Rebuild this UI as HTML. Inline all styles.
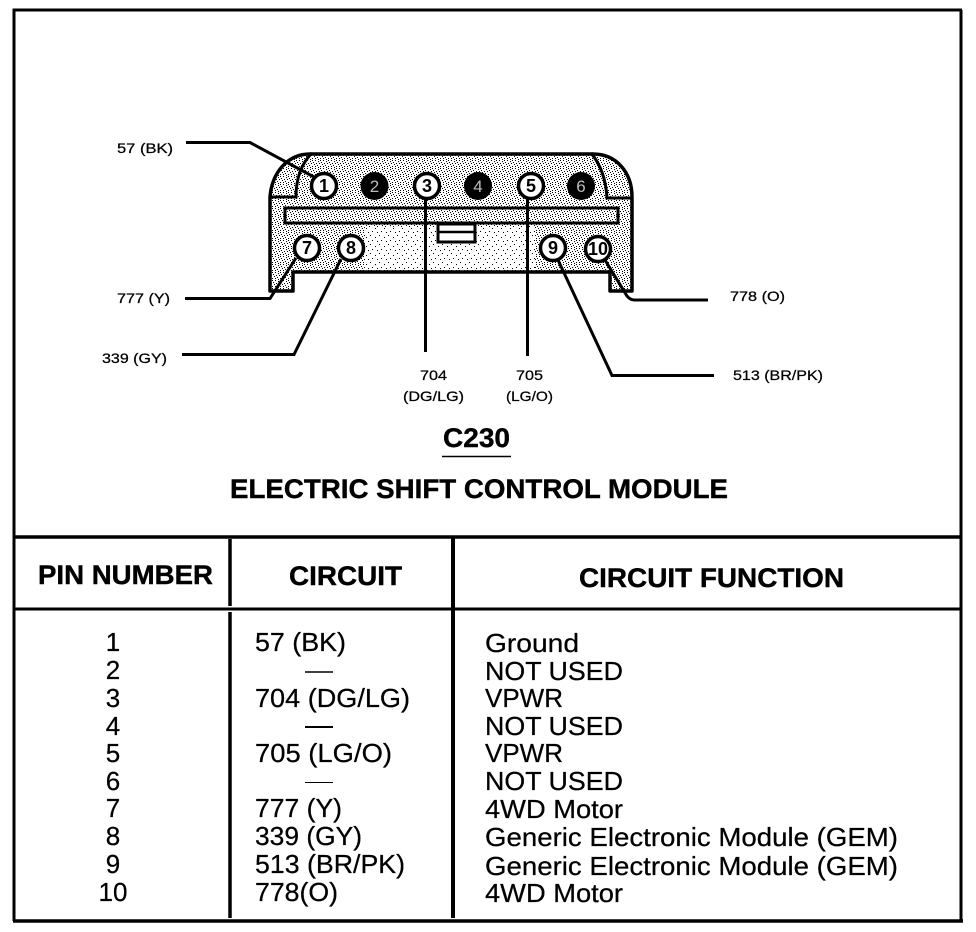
<!DOCTYPE html>
<html>
<head>
<meta charset="utf-8">
<style>
html,body{margin:0;padding:0;background:#fff;}
svg{display:block;}
text{font-family:"Liberation Sans",sans-serif;fill:#000;}
.s{font-size:14px;stroke:#000;stroke-width:.25px;}
.r{font-size:26px;stroke:#000;stroke-width:.25px;}
.h{font-size:27px;font-weight:bold;stroke:#000;stroke-width:.4px;}
.p{font-size:18px;font-weight:bold;text-anchor:middle;}
.pw{font-size:17px;text-anchor:middle;fill:#bbb;}
</style>
</head>
<body>
<svg width="976" height="932" viewBox="0 0 976 932" xmlns="http://www.w3.org/2000/svg">
<defs>
<pattern id="d" width="8" height="8" patternUnits="userSpaceOnUse" shape-rendering="crispEdges">
<rect width="8" height="8" fill="#fff"/>
<g fill="#000">
<rect x="0" y="0" width="1" height="1"/>
<rect x="3" y="0" width="1" height="1"/>
<rect x="6" y="1" width="1" height="1"/>
<rect x="1" y="2" width="1" height="1"/>
<rect x="4" y="3" width="1" height="1"/>
<rect x="7" y="3" width="1" height="1"/>
<rect x="2" y="4" width="1" height="1"/>
<rect x="5" y="5" width="1" height="1"/>
<rect x="0" y="6" width="1" height="1"/>
<rect x="3" y="6" width="1" height="1"/>
<rect x="6" y="7" width="1" height="1"/>
</g>
</pattern>
<pattern id="e" width="9" height="9" patternUnits="userSpaceOnUse" shape-rendering="crispEdges">
<rect width="9" height="9" fill="#fff"/>
<g fill="#000">
<rect x="1" y="1" width="1" height="1"/>
<rect x="6" y="3" width="1" height="1"/>
<rect x="3" y="6" width="1" height="1"/>
<rect x="8" y="7" width="1" height="1"/>
</g>
</pattern>
</defs>
<rect width="976" height="932" fill="#fff"/>

<!-- frame -->
<g fill="none" stroke="#000" stroke-width="3">
<path d="M14 921V10H962"/>
<path d="M961 10V921"/>
<path d="M13 921H963" stroke-width="3.5"/>
<path d="M14 537H962" stroke-width="3.5"/>
<path d="M14 609H962" stroke-width="3"/>
<path d="M230 539V606M230 612V918" stroke-width="3.5"/>
<path d="M453 538V918" stroke-width="4"/>
</g>

<!-- connector body -->
<path d="M270 197C272 172 288 154 310 154H593C616 154 632 172 632 197V291H610V272H293V291H270Z" fill="url(#d)" stroke="#000" stroke-width="3.5" stroke-linejoin="round"/>
<rect x="365" y="227" width="170" height="43" fill="url(#e)"/>
<g fill="none" stroke="#000">
<path d="M270 197H296C296 178 301 164 312 153" stroke-width="3"/>
<path d="M632 198H607C606 180 601 165 591 153" stroke-width="3"/>
</g>
<rect x="285" y="208" width="333" height="15" fill="url(#d)" stroke="#000" stroke-width="3"/>
<rect x="438" y="224" width="37" height="18" fill="#fff" stroke="#000" stroke-width="3"/>
<path d="M438 232H475" stroke="#000" stroke-width="2.5"/>

<!-- leaders -->
<g fill="none" stroke="#000" stroke-width="3">
<path d="M186 142.500H250L314 177"/>
<path d="M185 298.500H270L296 258"/>
<path d="M182 354.500H294L341 259"/>
<path d="M425.500 196V352"/>
<path d="M527.500 196V356"/>
<path d="M558 260L612 375.500H714"/>
<path d="M605 260L627 296Q630 300 635 300H708"/>
</g>

<!-- pins -->
<g stroke="#000" stroke-width="3.5" fill="#fff">
<circle cx="324" cy="186" r="12.500"/>
<circle cx="427" cy="186" r="12.500"/>
<circle cx="531" cy="186" r="12.500"/>
<circle cx="307" cy="248" r="12.500"/>
<circle cx="351" cy="248" r="12.500"/>
<circle cx="553" cy="248" r="12.500"/>
<circle cx="598" cy="249" r="12.500"/>
</g>
<g fill="#000">
<circle cx="374.500" cy="186" r="14"/>
<circle cx="478" cy="186" r="14"/>
<circle cx="581" cy="186" r="14"/>
</g>
<text class="p" x="324" y="192">1</text>
<text class="pw" x="374.500" y="192">2</text>
<text class="p" x="427" y="192">3</text>
<text class="pw" x="478" y="192">4</text>
<text class="p" x="531" y="192">5</text>
<text class="pw" x="581" y="192">6</text>
<text class="p" x="307" y="254">7</text>
<text class="p" x="351" y="254">8</text>
<text class="p" x="553" y="254">9</text>
<text class="p" x="598" y="255" textLength="20" lengthAdjust="spacingAndGlyphs">10</text>

<!-- small labels -->
<text class="s" x="117" y="153" textLength="56" lengthAdjust="spacingAndGlyphs">57 (BK)</text>
<text class="s" x="117" y="303" textLength="53" lengthAdjust="spacingAndGlyphs">777 (Y)</text>
<text class="s" x="102" y="363" textLength="65" lengthAdjust="spacingAndGlyphs">339 (GY)</text>
<text class="s" x="730" y="301" textLength="55" lengthAdjust="spacingAndGlyphs">778 (O)</text>
<text class="s" x="733" y="380" textLength="90" lengthAdjust="spacingAndGlyphs">513 (BR/PK)</text>
<text class="s" x="420" y="380" textLength="27" lengthAdjust="spacingAndGlyphs">704</text>
<text class="s" x="403" y="401" textLength="61" lengthAdjust="spacingAndGlyphs">(DG/LG)</text>
<text class="s" x="516" y="380" textLength="27" lengthAdjust="spacingAndGlyphs">705</text>
<text class="s" x="506" y="401" textLength="47" lengthAdjust="spacingAndGlyphs">(LG/O)</text>

<!-- title -->
<text class="h" x="443" y="447" textLength="67" lengthAdjust="spacingAndGlyphs">C230</text>
<path d="M442 456.500H511" stroke="#000" stroke-width="1.500"/>
<text class="h" x="230" y="498" textLength="498" lengthAdjust="spacingAndGlyphs">ELECTRIC SHIFT CONTROL MODULE</text>

<!-- table header -->
<text class="h" x="38" y="584" textLength="175" lengthAdjust="spacingAndGlyphs">PIN NUMBER</text>
<text class="h" x="289" y="585" textLength="113" lengthAdjust="spacingAndGlyphs">CIRCUIT</text>
<text class="h" x="579" y="587" textLength="265" lengthAdjust="spacingAndGlyphs">CIRCUIT FUNCTION</text>

<!-- pin numbers -->
<g text-anchor="middle">
<text class="r" x="113" y="651">1</text>
<text class="r" x="113" y="679">2</text>
<text class="r" x="113" y="707">3</text>
<text class="r" x="113" y="735">4</text>
<text class="r" x="113" y="762">5</text>
<text class="r" x="113" y="790">6</text>
<text class="r" x="113" y="817">7</text>
<text class="r" x="113" y="845">8</text>
<text class="r" x="113" y="873">9</text>
<text class="r" x="113" y="901">10</text>
</g>

<!-- circuits -->
<text class="r" x="255" y="651" textLength="91" lengthAdjust="spacingAndGlyphs">57 (BK)</text>
<path d="M305 672H333" stroke="#000" stroke-width="1.500"/>
<text class="r" x="255" y="707" textLength="155" lengthAdjust="spacingAndGlyphs">704 (DG/LG)</text>
<path d="M305 727H333" stroke="#000" stroke-width="2"/>
<text class="r" x="255" y="762" textLength="137" lengthAdjust="spacingAndGlyphs">705 (LG/O)</text>
<path d="M305 782.500H333" stroke="#000" stroke-width="1"/>
<text class="r" x="255" y="817" textLength="87" lengthAdjust="spacingAndGlyphs">777 (Y)</text>
<text class="r" x="255" y="845" textLength="107" lengthAdjust="spacingAndGlyphs">339 (GY)</text>
<text class="r" x="255" y="873" textLength="150" lengthAdjust="spacingAndGlyphs">513 (BR/PK)</text>
<text class="r" x="255" y="901" textLength="83" lengthAdjust="spacingAndGlyphs">778(O)</text>

<!-- functions -->
<text class="r" x="485" y="652" textLength="94" lengthAdjust="spacingAndGlyphs">Ground</text>
<text class="r" x="485" y="680" textLength="138" lengthAdjust="spacingAndGlyphs">NOT USED</text>
<text class="r" x="485" y="707" textLength="78" lengthAdjust="spacingAndGlyphs">VPWR</text>
<text class="r" x="485" y="735" textLength="138" lengthAdjust="spacingAndGlyphs">NOT USED</text>
<text class="r" x="485" y="762" textLength="78" lengthAdjust="spacingAndGlyphs">VPWR</text>
<text class="r" x="485" y="790" textLength="138" lengthAdjust="spacingAndGlyphs">NOT USED</text>
<text class="r" x="485" y="818" textLength="138" lengthAdjust="spacingAndGlyphs">4WD Motor</text>
<text class="r" x="485" y="846" textLength="413" lengthAdjust="spacingAndGlyphs">Generic Electronic Module (GEM)</text>
<text class="r" x="485" y="875" textLength="413" lengthAdjust="spacingAndGlyphs">Generic Electronic Module (GEM)</text>
<text class="r" x="485" y="902" textLength="138" lengthAdjust="spacingAndGlyphs">4WD Motor</text>
</svg>
</body>
</html>
